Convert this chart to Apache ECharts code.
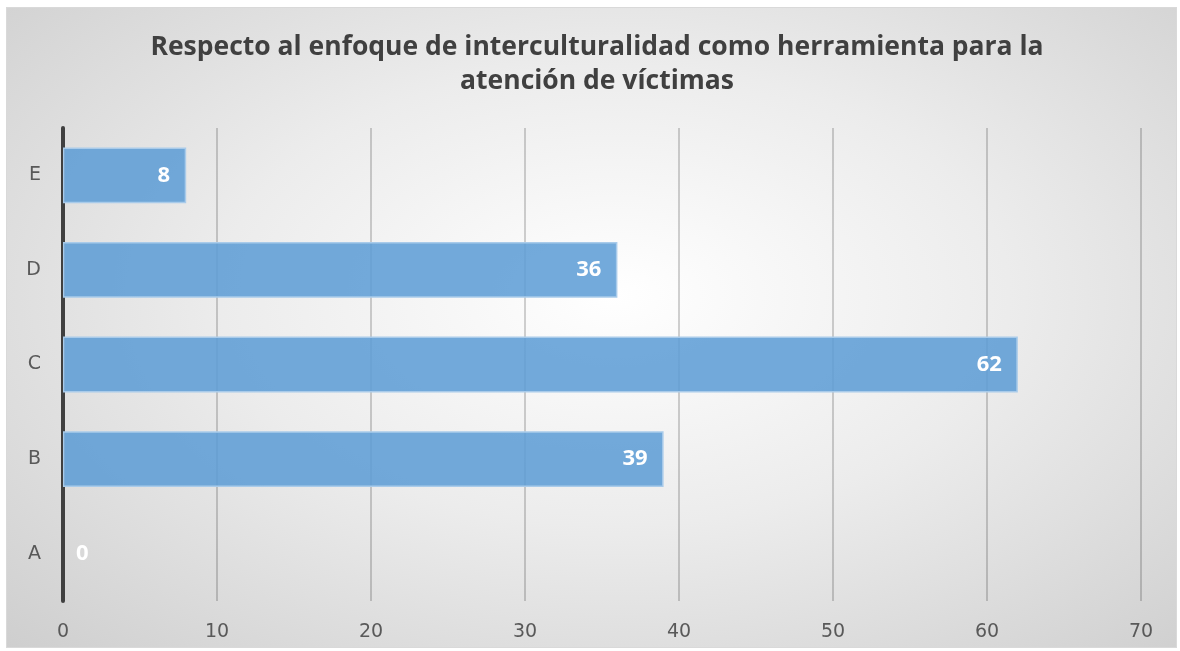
<!DOCTYPE html>
<html><head><meta charset="utf-8">
<script src="https://cdn.jsdelivr.net/npm/echarts@6/dist/echarts.min.js"></script>
<style>
html,body{margin:0;padding:0;background:#fff;width:1180px;height:651px;overflow:hidden}
#c{position:absolute;left:6px;top:7px;width:1171px;height:641px;box-sizing:border-box;border:1px solid #d9d9d9;
background:radial-gradient(ellipse 75% 80% at 52% 45%, #ffffff 0%, #ececec 45%, #cdcdcd 100%);}
</style></head>
<body><div id="c"></div>
<script>
const titleText = 'Respecto al enfoque de interculturalidad como herramienta para la\natención de víctimas';
const categories = ['A','B','C','D','E'];
const values = [0,39,62,36,8];
const xTicks = {min:0, max:70, interval:10};

const chart = echarts.init(document.getElementById('c'));
const data = values.map((v,i)=> v===0 ? {value:v,itemStyle:{borderWidth:0},label:{position:'insideLeft',distance:13}} : v);
chart.setOption({
  animation:false,
  title:{text:titleText,left:585,top:17,textAlign:'center',
    textStyle:{fontFamily:'Open Sans',fontWeight:'bold',fontSize:26.5,color:'#404040',lineHeight:34}},
  grid:{left:56,right:35,top:120,bottom:46,containLabel:false},
  xAxis:{type:'value',min:xTicks.min,max:xTicks.max,interval:xTicks.interval,
    axisLine:{show:false},axisTick:{show:false},
    axisLabel:{color:'#595959',fontSize:19,fontFamily:'DejaVu Sans',margin:22},
    splitLine:{lineStyle:{color:'rgba(0,0,0,0.24)',width:1.5}}},
  yAxis:{type:'category',data:categories,
    axisLine:{lineStyle:{color:'#404040',width:4}},axisTick:{show:false},
    axisLabel:{color:'#595959',fontSize:19,fontFamily:'DejaVu Sans',margin:22}},
  series:[{type:'bar',data:data,barCategoryGap:'41%',z:1,
    itemStyle:{color:'rgba(91,155,213,0.85)',borderColor:'#a9cbea',borderWidth:1.5},
    label:{show:true,position:'insideRight',distance:16,color:'#ffffff',fontWeight:'bold',
      fontSize:22,fontFamily:'Open Sans'}}]
});
</script></body></html>
